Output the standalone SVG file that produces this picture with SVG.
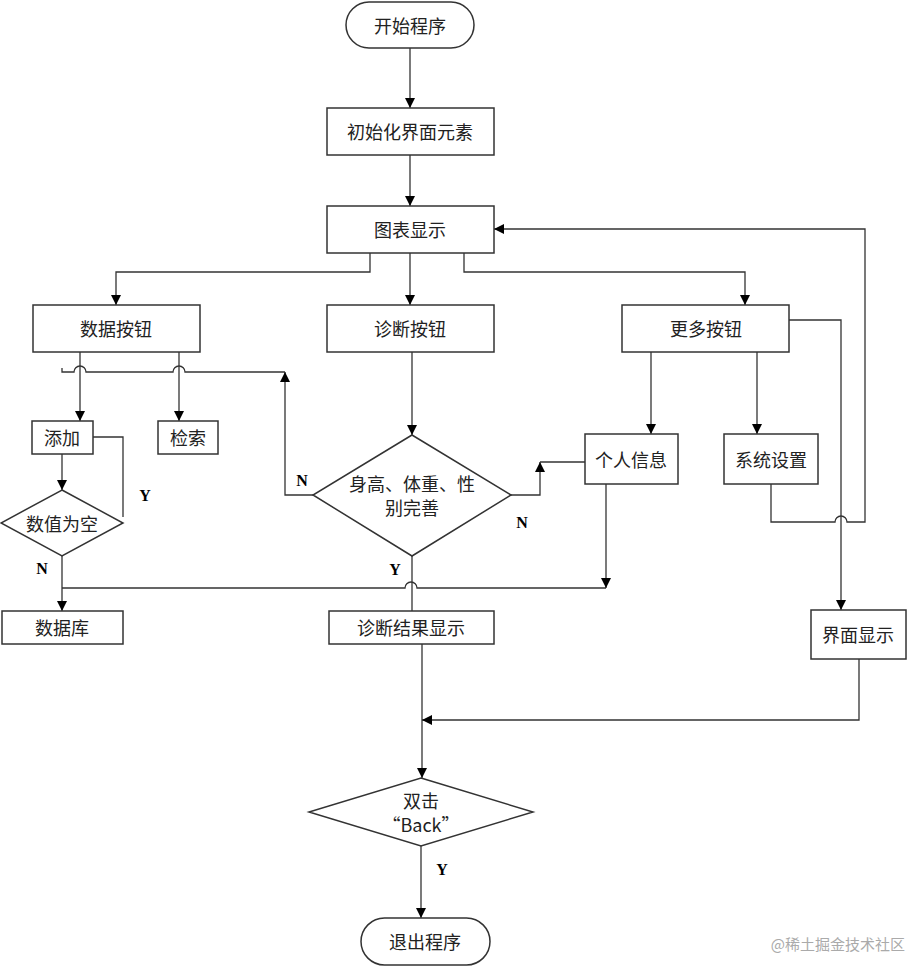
<svg xmlns="http://www.w3.org/2000/svg" width="910" height="967" viewBox="0 0 910 967">
<defs>
<marker id="a" viewBox="0 0 10 10" refX="10" refY="5" markerWidth="10" markerHeight="10" markerUnits="userSpaceOnUse" orient="auto"><path d="M0,0L10,5L0,10z" fill="#000"/></marker>
</defs>
<style>
.n{fill:#fff;stroke:#333;stroke-width:1.5}
.t{font-family:"Noto Sans CJK SC","Liberation Serif",serif;font-size:18px;text-anchor:middle;dominant-baseline:central;fill:#222}
.l{font-family:"Liberation Serif",serif;font-size:16px;font-weight:bold;text-anchor:middle;fill:#000}
.c path{fill:none;stroke:#333;stroke-width:1.3}
.m{marker-end:url(#a)}
</style>
<rect width="910" height="967" fill="#fff"/>
<g class="c">
<path class="m" d="M410,48V108"/>
<path class="m" d="M410,155V206"/>
<path class="m" d="M370,253V272H116V305"/>
<path class="m" d="M410,253V305"/>
<path class="m" d="M464,253V272H745V305"/>
<path class="m" d="M80,352V421"/>
<path class="m" d="M179,352V421"/>
<path d="M62,368V372H74A6,6 0 0 1 86,372H173A6,6 0 0 1 185,372H285"/>
<path class="m" d="M313,495H285V372"/>
<path d="M93,437H123V517"/>
<path class="m" d="M62,454V490"/>
<path class="m" d="M62,556V611"/>
<path d="M62,588H405A6,6 0 0 1 417,588H606"/>
<path class="m" d="M412,352V435"/>
<path class="m" d="M511,495H540V462"/>
<path d="M540,462H585"/>
<path class="m" d="M606,484V588"/>
<path class="m" d="M651,352V434"/>
<path class="m" d="M757,352V434"/>
<path class="m" d="M789,320H841V610"/>
<path class="m" d="M771,484V522H835A6,6 0 0 1 847,522H865V229H494"/>
<path d="M412,556V611"/>
<path class="m" d="M422,644V778"/>
<path class="m" d="M859,659V720H422"/>
<path class="m" d="M421,846V918"/>
</g>
<g id="start"><rect class="n" x="346" y="2" width="128" height="46" rx="23"/><text class="t" x="410" y="25">开始程序</text></g>
<g id="init"><rect class="n" x="327" y="108" width="167" height="47"/><text class="t" x="410" y="131">初始化界面元素</text></g>
<g id="chart"><rect class="n" x="327" y="206" width="167" height="47"/><text class="t" x="410" y="229">图表显示</text></g>
<g id="data"><rect class="n" x="33" y="305" width="167" height="47"/><text class="t" x="116" y="328">数据按钮</text></g>
<g id="diag"><rect class="n" x="327" y="305" width="167" height="47"/><text class="t" x="410" y="328">诊断按钮</text></g>
<g id="more"><rect class="n" x="622" y="305" width="167" height="47"/><text class="t" x="706" y="328">更多按钮</text></g>
<g id="add"><rect class="n" x="32" y="421" width="61" height="33"/><text class="t" x="62" y="437">添加</text></g>
<g id="search"><rect class="n" x="158" y="421" width="60" height="33"/><text class="t" x="188" y="437">检索</text></g>
<g id="empty"><path class="n" d="M62,490L123,523L62,556L1,523z"/><text class="t" x="62" y="523">数值为空</text></g>
<g id="db"><rect class="n" x="2" y="611" width="121" height="33"/><text class="t" x="62" y="627">数据库</text></g>
<g id="check"><path class="n" d="M412,435L511,495L412,556L313,495z"/><text class="t" x="412" y="483">身高、体重、性</text><text class="t" x="412" y="507">别完善</text></g>
<g id="person"><rect class="n" x="585" y="434" width="93" height="50"/><text class="t" x="631" y="459">个人信息</text></g>
<g id="sys"><rect class="n" x="724" y="434" width="94" height="50"/><text class="t" x="771" y="459">系统设置</text></g>
<g id="result"><rect class="n" x="329" y="611" width="165" height="33"/><text class="t" x="411" y="627">诊断结果显示</text></g>
<g id="ui"><rect class="n" x="811" y="610" width="95" height="49"/><text class="t" x="858" y="634">界面显示</text></g>
<g id="back"><path class="n" d="M421,778L533,812L421,846L309,812z"/><text class="t" x="421" y="800">双击</text><text class="t" x="421" y="824">“Back”</text></g>
<g id="exit"><rect class="n" x="361" y="918" width="129" height="47" rx="23.5"/><text class="t" x="425" y="941">退出程序</text></g>
<text class="l" x="145" y="501">Y</text>
<text class="l" x="42" y="574">N</text>
<text class="l" x="302" y="486">N</text>
<text class="l" x="522" y="528">N</text>
<text class="l" x="395" y="575">Y</text>
<text class="l" x="442" y="875">Y</text>
<text x="905" y="950" style="font-family:'Noto Sans CJK SC',sans-serif;font-size:15px;text-anchor:end;fill:#aaa">@稀土掘金技术社区</text>
</svg>
